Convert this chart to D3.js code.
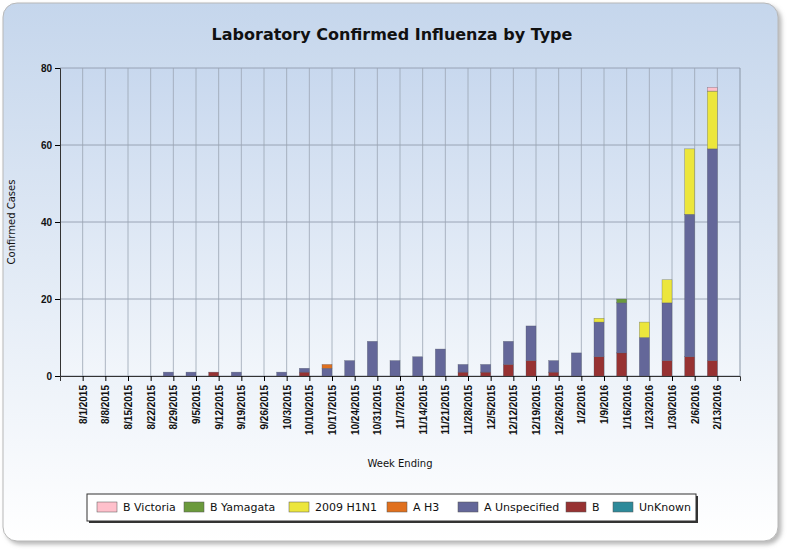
<!DOCTYPE html><html><head><meta charset="utf-8"><script src="https://cdn.jsdelivr.net/npm/d3@7"></script>
<style>body{margin:0;background:#fff;font-family:"DejaVu Sans",Verdana,sans-serif}</style></head><body><svg id="c" width="788" height="550"></svg>
<script>
const weeks=["8/1/2015","8/8/2015","8/15/2015","8/22/2015","8/29/2015","9/5/2015","9/12/2015","9/19/2015","9/26/2015","10/3/2015","10/10/2015","10/17/2015","10/24/2015","10/31/2015","11/7/2015","11/14/2015","11/21/2015","11/28/2015","12/5/2015","12/12/2015","12/19/2015","12/26/2015","1/2/2016","1/9/2016","1/16/2016","1/23/2016","1/30/2016","2/6/2016","2/13/2016"];
const seriesNames=["UnKnown","B","A Unspecified","A H3","2009 H1N1","B Yamagata","B Victoria"];
const legendOrder=["B Victoria","B Yamagata","2009 H1N1","A H3","A Unspecified","B","UnKnown"];
const colors={"B Victoria":"#ffc0cb","B Yamagata":"#6b9a3c","2009 H1N1":"#ece63c","A H3":"#e0701e","A Unspecified":"#646799","B":"#973232","UnKnown":"#2e8a9a"};
const unknown=new Array(29).fill(0);
const bVals=[0,0,0,0,0,0,1,0,0,0,1,0,0,0,0,0,0,1,1,3,4,1,0,5,6,0,4,5,4];
const aUnspec=[0,0,0,0,1,1,0,1,0,1,1,2,4,9,4,5,7,2,2,6,9,3,6,9,13,10,15,37,55];
const aH3=[0,0,0,0,0,0,0,0,0,0,0,1,0,0,0,0,0,0,0,0,0,0,0,0,0,0,0,0,0];
const h1n1=[0,0,0,0,0,0,0,0,0,0,0,0,0,0,0,0,0,0,0,0,0,0,0,1,0,4,6,17,15];
const bYam=[0,0,0,0,0,0,0,0,0,0,0,0,0,0,0,0,0,0,0,0,0,0,0,0,1,0,0,0,0];
const bVic=[0,0,0,0,0,0,0,0,0,0,0,0,0,0,0,0,0,0,0,0,0,0,0,0,0,0,0,0,1];
const yTicks=[0,20,40,60,80];
const vals={"UnKnown":unknown,"B":bVals,"A Unspecified":aUnspec,"A H3":aH3,"2009 H1N1":h1n1,"B Yamagata":bYam,"B Victoria":bVic};
const rows=weeks.map((w,i)=>{const r={week:w};seriesNames.forEach(s=>r[s]=vals[s][i]);return r;});
const svg=d3.select("#c");
const defs=svg.append("defs");
const g1=defs.append("linearGradient").attr("id","bg").attr("x1",0).attr("y1",0).attr("x2",0).attr("y2",1);
g1.append("stop").attr("offset","0%").attr("stop-color","#c5d6ec");g1.append("stop").attr("offset","100%").attr("stop-color","#ffffff");
const g2=defs.append("linearGradient").attr("id","pb").attr("x1",0).attr("y1",0).attr("x2",0).attr("y2",1);
g2.append("stop").attr("offset","0%").attr("stop-color","#c8d8ee");g2.append("stop").attr("offset","100%").attr("stop-color","#f2f6fb");
const f=defs.append("filter").attr("id","sh");f.append("feDropShadow").attr("dx",3).attr("dy",3).attr("stdDeviation",2).attr("flood-color","#888").attr("flood-opacity",0.6);
svg.append("rect").attr("x",3).attr("y",3).attr("width",775).attr("height",538).attr("rx",14).attr("fill","url(#bg)").attr("stroke","#b8b8b8").attr("filter","url(#sh)");
svg.append("text").attr("x",392).attr("y",40).attr("text-anchor","middle").attr("font-size",16).attr("font-weight","bold").attr("fill","#111").text("Laboratory Confirmed Influenza by Type");
const L=60,R=740,T=68,B=376;
const x=d3.scalePoint().domain(weeks).range([L,R]).padding(1);
const y=d3.scaleLinear().domain([0,80]).range([B,T]);
svg.append("rect").attr("x",L).attr("y",T).attr("width",R-L).attr("height",B-T).attr("fill","url(#pb)");
svg.append("g").selectAll("line").data(yTicks).join("line").attr("x1",L).attr("x2",R).attr("y1",d=>y(d)).attr("y2",d=>y(d)).attr("stroke","#8a96a6").attr("stroke-width",0.8);
svg.append("g").selectAll("line").data(weeks).join("line").attr("x1",d=>x(d)).attr("x2",d=>x(d)).attr("y1",T).attr("y2",B).attr("stroke","#9aa4b2").attr("stroke-width",0.8);
svg.append("line").attr("x1",R).attr("x2",R).attr("y1",T).attr("y2",B).attr("stroke","#8a96a6");
const stack=d3.stack().keys(seriesNames)(rows);
const bw=10;
svg.append("g").selectAll("g").data(stack).join("g").attr("fill",d=>colors[d.key]).selectAll("rect").data(d=>d.filter(p=>p[1]>p[0])).join("rect")
 .attr("x",d=>x(d.data.week)-bw).attr("width",bw).attr("y",d=>y(d[1])).attr("height",d=>y(d[0])-y(d[1])).attr("stroke","#4a5060").attr("stroke-width",0.5).attr("stroke-opacity",0.6);
const ya=svg.append("g").attr("transform",`translate(${L},0)`).call(d3.axisLeft(y).tickValues(yTicks).tickSize(5));
ya.selectAll("text").attr("font-size",10).attr("font-weight","bold").attr("fill","#111");
ya.select(".domain").attr("stroke","#333");
const xa=svg.append("g").attr("transform",`translate(0,${B})`).call(d3.axisBottom(x).tickSize(5));
xa.select(".domain").attr("stroke","#333");
xa.selectAll("text").attr("font-size",10).attr("font-weight","bold").attr("fill","#111").attr("text-anchor","end").attr("transform","rotate(-90)").attr("x",-9).attr("y",0).attr("dy","0.35em");
svg.append("text").attr("transform","translate(15,222) rotate(-90)").attr("text-anchor","middle").attr("font-size",10).attr("fill","#111").text("Confirmed Cases");
svg.append("text").attr("x",400).attr("y",467).attr("text-anchor","middle").attr("font-size",10).attr("fill","#111").text("Week Ending");
const lg=svg.append("g");
lg.append("rect").attr("x",89).attr("y",496).attr("width",609).attr("height",27).attr("fill","#333");
lg.append("rect").attr("x",87).attr("y",494).attr("width",609).attr("height",27).attr("fill","#fff").attr("stroke","#333");
const lx=[97,184,289,387,458,566,613];
legendOrder.forEach((s,i)=>{
 lg.append("rect").attr("x",lx[i]).attr("y",502).attr("width",20).attr("height",10).attr("fill",colors[s]).attr("stroke","#555").attr("stroke-width",0.5);
 lg.append("text").attr("x",lx[i]+26).attr("y",511).attr("font-size",11).attr("fill","#111").text(s);
});
</script></body></html>
